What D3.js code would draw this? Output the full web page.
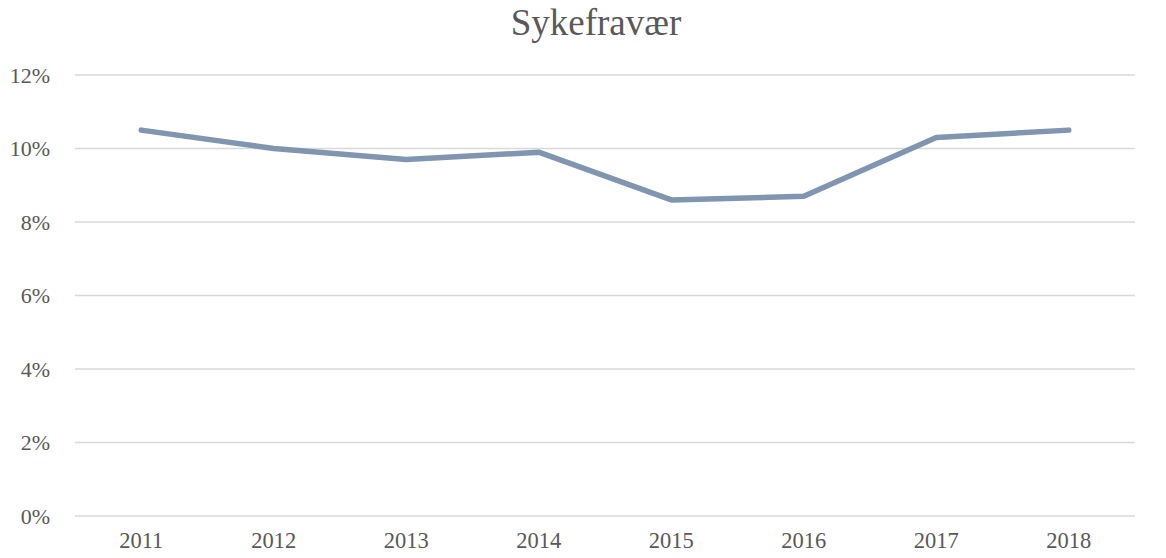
<!DOCTYPE html>
<html>
<head>
<meta charset="utf-8">
<script src="https://cdn.jsdelivr.net/npm/d3@7"></script>
<style>
  body { margin: 0; background: #fff; }
  text { font-family: "Liberation Serif", "Times New Roman", serif; fill: #595959; }
</style>
</head>
<body>
<div id="chart"></div>
<script>
const years = ["2011", "2012", "2013", "2014", "2015", "2016", "2017", "2018"]
const sickLeave = [0.105, 0.100, 0.097, 0.099, 0.086, 0.087, 0.103, 0.105]
const yTicks = [0, 0.02, 0.04, 0.06, 0.08, 0.10, 0.12]

const W = 1166, H = 558
const margin = {top: 75, right: 31, bottom: 42, left: 75}
const w = W - margin.left - margin.right,
      h = H - margin.top - margin.bottom

const svg = d3.select("#chart")
    .append("svg")
    .attr("width", W)
    .attr("height", H)

const g = svg.append("g")
    .attr("transform", `translate(${margin.left},${margin.top})`)

const x = d3.scaleBand()
    .domain(years)
    .range([0, w])

const y = d3.scaleLinear()
    .domain([0, 0.12])
    .range([h, 0])

// gridlines
g.append("g")
    .selectAll("line")
    .data(yTicks)
    .join("line")
    .attr("x1", 0)
    .attr("x2", w)
    .attr("y1", d => y(d))
    .attr("y2", d => y(d))
    .style("stroke", "#d9d9d9")
    .style("stroke-width", 1.3)

// y labels
g.append("g")
    .selectAll("text")
    .data(yTicks)
    .join("text")
    .attr("x", -25)
    .attr("y", d => y(d))
    .attr("dy", "0.35em")
    .attr("text-anchor", "end")
    .style("font-size", "22px")
    .text(d3.format(".0%"))

// x labels
g.append("g")
    .selectAll("text")
    .data(years)
    .join("text")
    .attr("x", d => x(d) + x.bandwidth() / 2)
    .attr("y", h + 32)
    .attr("text-anchor", "middle")
    .style("font-size", "22.5px")
    .text(d => d)

const line = d3.line()
    .x((d, i) => x(years[i]) + x.bandwidth() / 2)
    .y(d => y(d))

g.append("path")
    .datum(sickLeave)
    .attr("d", line)
    .style("fill", "none")
    .style("stroke", "#7f95b0")
    .style("stroke-width", 5.5)
    .style("stroke-linecap", "round")
    .style("stroke-linejoin", "round")

svg.append("text")
    .attr("x", W / 2 + 13)
    .attr("y", 35)
    .attr("text-anchor", "middle")
    .style("font-size", "37px")
    .text("Sykefravær")
</script>
</body>
</html>
